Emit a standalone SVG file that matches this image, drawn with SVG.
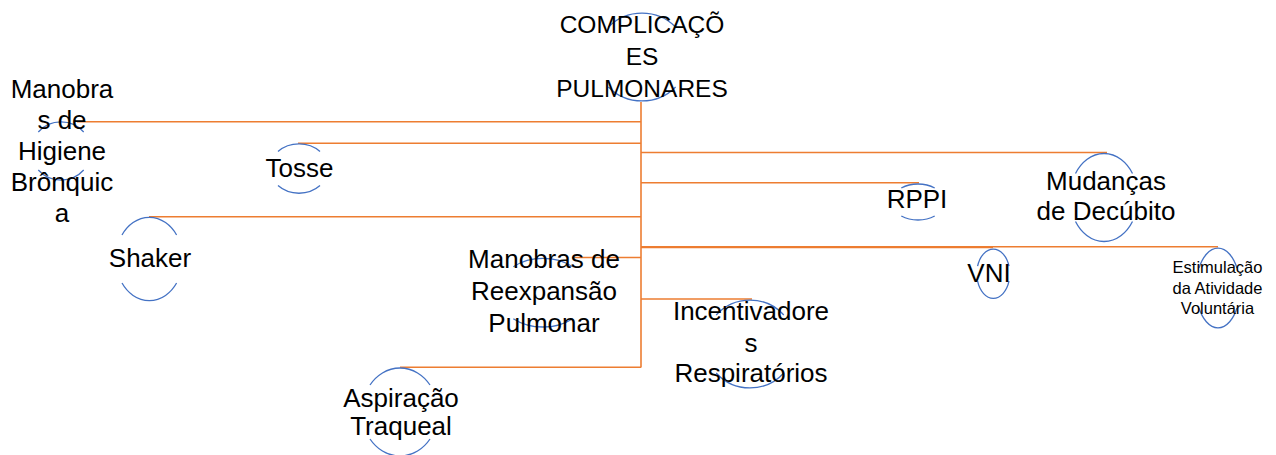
<svg xmlns="http://www.w3.org/2000/svg" width="1276" height="455" viewBox="0 0 1276 455">
<style>
.t{font-family:"Liberation Sans",Arial,sans-serif;font-size:26px;fill:#000;text-anchor:middle}
.c{font-size:24.5px}
.s{font-family:"Liberation Sans",Arial,sans-serif;font-size:16.5px;fill:#000;text-anchor:middle}
.arc{fill:none;stroke:#4472C4;stroke-width:1.3}
.con{fill:none;stroke:#ED7D31;stroke-width:1.6}
</style>
<rect width="1276" height="455" fill="#fff"/>
<g id="connectors">
<path class="con" d="M641 102 V367.5" stroke-width="2.2"/>
<path class="con" d="M641 121.7 H77"/>
<path class="con" d="M641 143.3 H298"/>
<path class="con" d="M641 216.7 H149"/>
<path class="con" d="M641 257.5 H572"/>
<path class="con" d="M641 367.3 H400"/>
<path class="con" d="M641 152.5 H1107"/>
<path class="con" d="M641 182.7 H919"/>
<path class="con" d="M641 247.5 H993"/>
<path class="con" d="M641 246.8 H1218"/>
<path class="con" d="M641 299 H752"/>
</g>
<g id="node-complicacoes">
<path class="arc" d="M608.4 27 A46 44 0 0 1 675.6 27"/>
<path class="arc" d="M675.6 87 A46 44 0 0 1 608.4 87"/>
<text class="t c" x="642" y="33">COMPLICAÇÕ</text>
<text class="t c" x="642" y="65">ES</text>
<text class="t c" x="642" y="97">PULMONARES</text>
</g>
<g id="node-higiene">
<path class="arc" d="M38.3 132 A30 29 0 0 1 83.7 132"/>
<path class="arc" d="M83.7 170 A30 29 0 0 1 38.3 170"/>
<text class="t" x="62" y="98">Manobra</text>
<text class="t" x="62" y="129">s de</text>
<text class="t" x="62" y="160">Higiene</text>
<text class="t" x="62" y="191">Brônquic</text>
<text class="t" x="62" y="222">a</text>
</g>
<g id="node-tosse">
<path class="arc" d="M278 151.6 A29 24.6 0 0 1 320 151.6"/>
<path class="arc" d="M320 185.6 A29 24.6 0 0 1 278 185.6"/>
<text class="t" x="299.5" y="177">Tosse</text>
</g>
<g id="node-shaker">
<path class="arc" d="M122 235 A33.4 41.7 0 0 1 176.6 235"/>
<path class="arc" d="M176.6 283 A33.4 41.7 0 0 1 122 283"/>
<text class="t" x="150" y="267">Shaker</text>
</g>
<g id="node-reexpansao">
<path class="arc" d="M513.3 266.7 A45.5 34.3 0 0 1 572.7 266.7"/>
<path class="arc" d="M572.7 318.7 A45.5 34.3 0 0 1 513.3 318.7"/>
<text class="t" x="544" y="268">Manobras de</text>
<text class="t" x="544" y="300">Reexpansão</text>
<text class="t" x="544" y="332">Pulmonar</text>
</g>
<g id="node-aspiracao">
<path class="arc" d="M370 385 A38 44 0 0 1 430 385"/>
<path class="arc" d="M430 439 A38 44 0 0 1 370 439"/>
<text class="t" x="401" y="407">Aspiração</text>
<text class="t" x="401" y="435">Traqueal</text>
</g>
<g id="node-incentivadores">
<path class="arc" d="M716.2 315 A45 44 0 0 1 783.8 315"/>
<path class="arc" d="M783.8 373 A45 44 0 0 1 716.2 373"/>
<text class="t" x="751" y="320">Incentivadore</text>
<text class="t" x="751" y="352">s</text>
<text class="t" x="751" y="382">Respiratórios</text>
</g>
<g id="node-rppi">
<path class="arc" d="M901.3 188 A26.5 18 0 0 1 934.7 188"/>
<path class="arc" d="M934.7 216 A26.5 18 0 0 1 901.3 216"/>
<text class="t" x="917" y="208">RPPI</text>
</g>
<g id="node-mudancas">
<path class="arc" d="M1075.5 173.5 A34 44 0 0 1 1132.5 173.5"/>
<path class="arc" d="M1132.5 221.5 A34 44 0 0 1 1075.5 221.5"/>
<text class="t" x="1106" y="190">Mudanças</text>
<text class="t" x="1106" y="220">de Decúbito</text>
</g>
<g id="node-vni">
<path class="arc" d="M977.6 266.2 A16.5 24.7 0 0 1 1009 266.2"/>
<path class="arc" d="M1009 281.2 A16.5 24.7 0 0 1 977.6 281.2"/>
<text class="t" x="989" y="282">VNI</text>
</g>
<g id="node-estimulacao">
<path class="arc" d="M1199 268 A22 40 0 0 1 1237 268"/>
<path class="arc" d="M1237 308 A22 40 0 0 1 1199 308"/>
<text class="s" x="1217.5" y="273">Estimulação</text>
<text class="s" x="1217.5" y="294">da Atividade</text>
<text class="s" x="1217.5" y="314">Voluntária</text>
</g>
</svg>
